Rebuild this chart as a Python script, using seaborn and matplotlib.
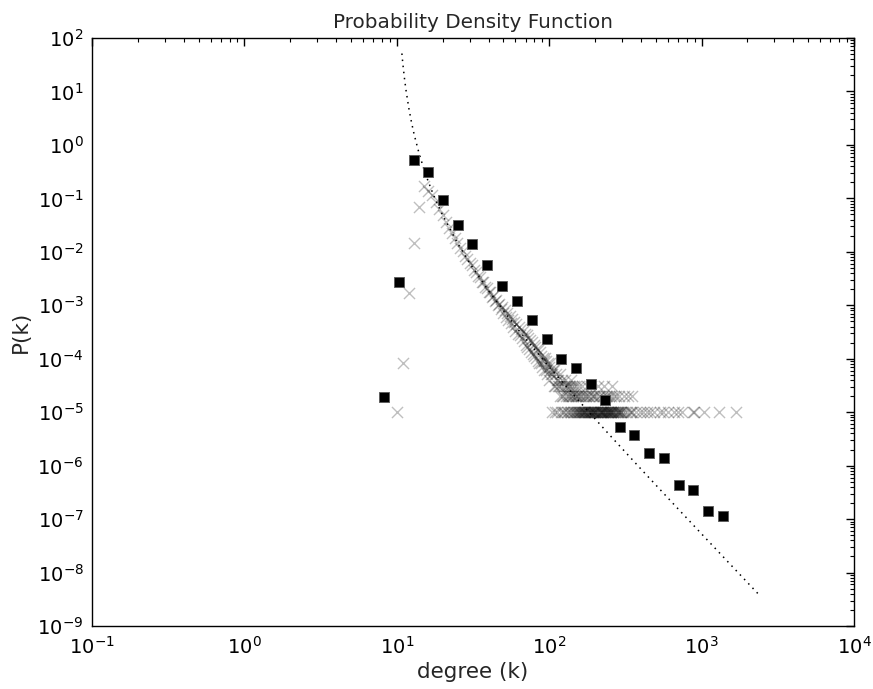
import numpy as np
import pandas as pd
import matplotlib
matplotlib.use("Agg")
import matplotlib.pyplot as plt
from matplotlib.ticker import FixedLocator, NullFormatter
import seaborn as sns

# ---------------- data ----------------
N_NODES = 98000

x_decades = [-1, 0, 1, 2, 3, 4]
y_decades = [-9, -8, -7, -6, -5, -4, -3, -2, -1, 0, 1, 2]

# raw degree distribution: isolated low degrees
deg_low = [10, 11, 12, 13, 14]
cnt_low = [1, 8, 169, 1430, 6840]

# raw counts for every degree 15..300 (0 = degree absent)
deg_main_start = 15
cnt_main = [
    16660, 13720, 11270, 8330, 6270, 4740, 3590, 2770, 2190, 1760,   # 15-24
    1435, 1180, 1010, 820, 730, 600, 545, 450, 415, 350,             # 25-34
    325, 270, 262, 212, 210, 172, 175, 142, 146, 118,                # 35-44
    122, 98, 104, 82, 91, 70, 79, 60, 69, 51,                        # 45-54
    61, 45, 55, 38, 48, 33, 43, 29, 39, 27,                          # 55-64
    35, 24, 32, 21, 29, 18, 27, 16, 24, 15,                          # 65-74
    22, 13, 20, 12, 18, 11, 16, 10, 15, 9,                           # 75-84
    14, 8, 13, 8, 11, 7, 10, 9, 6, 10,                               # 85-94
    6, 9, 5, 8, 7, 4, 8, 6, 5, 1,                                    # 95-104
    5, 6, 3, 6, 1, 3, 5, 4, 1, 3,                                    # 105-114
    4, 3, 5, 2, 1, 3, 2, 4, 1, 2,                                    # 115-124
    3, 1, 4, 2, 3, 1, 3, 2, 1, 3,                                    # 125-134
    2, 3, 1, 2, 4, 1, 2, 3, 1, 2, 1, 3, 2, 1, 2, 1, 3, 1, 2, 1,      # 135-154
    2, 1, 1, 3, 1, 2,                                                # 155-160
    1, 2, 1, 1, 3, 1, 2, 1, 0, 1, 2, 1, 1, 2, 1, 3, 1, 0, 1, 2,      # 161-180
    1, 1, 2, 1, 0, 1, 3, 1, 1, 2, 1, 0, 1, 2, 1, 1, 1, 2, 0, 1,      # 181-200
    1, 0, 2, 1, 1, 0, 1, 3, 1, 0, 1, 2, 0, 1, 1, 0, 2, 1, 0, 1,      # 201-220
    1, 0, 1, 2, 0, 1, 1, 0, 1, 3, 0, 1, 1, 0, 2, 1, 0, 1, 0, 1,      # 221-240
    2, 0, 1, 1, 0, 1, 0, 2, 1, 0, 1, 0, 1, 0, 1, 2, 0, 1, 0, 3,      # 241-260
    1, 0, 0, 1, 0, 2, 0, 1, 0, 0, 1, 0, 1, 0, 0, 2, 0, 1, 0, 0,      # 261-280
    1, 0, 0, 1, 0, 1, 0, 0, 2, 0, 0, 1, 0, 0, 1, 0, 0, 1, 0, 0,      # 281-300
]

# sparse tail of the raw distribution
deg_tail = [305, 310, 315, 322, 330, 338, 344, 349, 352, 370, 395, 415,
            438, 460, 488, 537, 560, 598, 660, 700, 740, 880, 890, 1037,
            1306, 1683]
cnt_tail = [1, 2, 1, 1, 2, 1, 1, 2, 1, 1, 1, 1,
            1, 1, 1, 1, 1, 1, 1, 1, 1, 1, 1, 1,
            1, 1]

# log-binned distribution (black squares)
bin_k = [8.25, 10.3, 12.97, 16.0, 20.1, 25.2, 31.1, 39.1, 49, 61.5, 77, 96.8,
         119, 150, 188, 232, 292, 360, 452, 567, 711, 879, 1102, 1381]
bin_p = [1.92e-5, 2.72e-3, 0.52, 0.31, 0.093, 0.0317, 0.014, 5.7e-3, 2.3e-3,
         1.2e-3, 5.3e-4, 2.34e-4, 9.9e-5, 6.7e-5, 3.4e-5, 1.69e-5, 5.3e-6,
         3.7e-6, 1.72e-6, 1.39e-6, 4.3e-7, 3.5e-7, 1.41e-7, 1.14e-7]

# power-law fit (dotted line)
fit_k = [10.8, 10.9, 11.0, 11.25, 11.5, 12.0, 12.5, 13.0, 14.0, 15.0, 16.0,
         17.0, 18.0, 20.0, 25.0, 30.0, 40.0, 60.0, 100.0, 150.0, 250.0,
         400.0, 700.0, 1000.0, 1500.0, 2400.0]
fit_p = [51.4, 38.6, 29.7, 16.86, 10.46, 4.83, 2.61, 1.568, 0.694, 0.366,
         0.2157, 0.1377, 0.0932, 0.0484, 0.01464, 0.00624, 1.866e-3, 4.06e-4,
         7.0e-5, 1.865e-5, 3.71e-6, 8.65e-7, 1.563e-7, 5.29e-8, 1.553e-8,
         3.76e-9]

# ---------------- assemble tables ----------------
deg_main = list(range(deg_main_start, deg_main_start + len(cnt_main)))
raw = pd.DataFrame({
    "k": deg_low + deg_main + deg_tail,
    "count": cnt_low + cnt_main + cnt_tail,
})
raw = raw[raw["count"] > 0].copy()
raw["p"] = raw["count"] / N_NODES

binned = pd.DataFrame({"k": bin_k, "p": bin_p})
fit = pd.DataFrame({"k": fit_k, "p": fit_p})

# ---------------- style ----------------
sns.set_style("white")
plt.rcParams.update({
    "font.family": ["DejaVu Sans"],
    "xtick.direction": "in",
    "ytick.direction": "in",
    "xtick.top": True,
    "ytick.right": True,
    "xtick.major.size": 6,
    "ytick.major.size": 6,
    "xtick.minor.size": 3,
    "ytick.minor.size": 3,
    "xtick.major.width": 1.0,
    "ytick.major.width": 1.0,
    "xtick.minor.width": 0.8,
    "ytick.minor.width": 0.8,
    "xtick.labelsize": 14,
    "ytick.labelsize": 14,
    "xtick.major.pad": 7,
    "ytick.major.pad": 6,
    "xtick.color": "black",
    "ytick.color": "black",
    "axes.edgecolor": "black",
    "axes.linewidth": 1.0,
})

fig = plt.figure(figsize=(8.73, 6.89), dpi=100)
ax = fig.add_axes([0.1054, 0.0914, 0.8728, 0.8534])
ax.set_xscale("log")
ax.set_yscale("log")

sns.scatterplot(data=raw, x="k", y="p", ax=ax, marker="x", s=64,
                color="black", alpha=0.25, linewidth=1.0, zorder=2,
                legend=False)
sns.lineplot(data=fit, x="k", y="p", ax=ax, color="black", lw=1.1,
             linestyle=(0, (1, 3)), sort=False, estimator=None, zorder=3,
             legend=False)
sns.scatterplot(data=binned, x="k", y="p", ax=ax, marker="s", s=55,
                color="black", edgecolor="0.35", linewidth=0.6, zorder=4,
                legend=False)

ax.set_xlim(1e-1, 1e4)
ax.set_ylim(1e-9, 1e2)


def decade_ticks(decades):
    major = [10.0 ** d for d in decades]
    minor = [m * 10.0 ** d for d in decades[:-1] for m in range(2, 10)]
    return major, minor


for axis, decs in ((ax.xaxis, x_decades), (ax.yaxis, y_decades)):
    major, minor = decade_ticks(decs)
    axis.set_major_locator(FixedLocator(major))
    axis.set_minor_locator(FixedLocator(minor))
    axis.set_minor_formatter(NullFormatter())
ax.set_xticklabels([rf"$10^{{{d}}}$" for d in x_decades])
ax.set_yticklabels([rf"$10^{{{d}}}$" for d in y_decades])

ax.set_title("Probability Density Function", fontsize=14.4, pad=7)
ax.set_xlabel("degree (k)", fontsize=15.5, labelpad=3)
ax.set_ylabel("P(k)", fontsize=15.5, labelpad=5)
ax.tick_params(which="both", top=True, right=True, direction="in")
for sp in ax.spines.values():
    sp.set_visible(True)
    sp.set_color("black")

fig.savefig("out.png", dpi=100)
